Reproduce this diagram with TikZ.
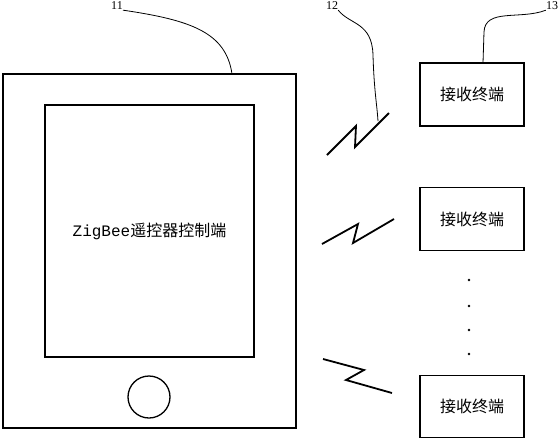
\documentclass[tikz,border=0pt]{standalone}
\usepackage{fontspec}
\usepackage{tikz}
\newfontfamily\cjk{Noto Sans CJK SC}
\newfontfamily\latinmono{Liberation Mono}
\setmainfont{Liberation Serif}

\tikzset{
    box/.style={draw, line width=1.4pt, rectangle, inner sep=0pt},
    leader/.style={line width=0.8pt},
    zigzag/.style={line width=1.8pt, line join=miter},
    refnum/.style={font=\fontsize{12}{12}\selectfont, inner sep=0pt},
}

\begin{document}
\begin{tikzpicture}[x=1pt, y=-1pt]
    \useasboundingbox (0, 0) rectangle (560, 440);
    % controller
    \node[box, minimum width=293, minimum height=354] (phone) at (149.5, 251) {};
    \node[box, minimum width=209, minimum height=252] (screen) at (149.5, 231)
        {\fontsize{16}{16}\selectfont\latinmono ZigBee\cjk 遥控器控制端};
    \node[draw, circle, line width=1.3pt, minimum size=42, inner sep=0pt] (homekey) at (149, 397) {};
    % receivers
    \node[box, minimum width=104, minimum height=63] (recv1) at (472, 94.5) {\fontsize{16}{16}\selectfont\cjk 接收终端};
    \node[box, minimum width=104, minimum height=63] (recv2) at (472, 219) {\fontsize{16}{16}\selectfont\cjk 接收终端};
    \node[box, minimum width=104, minimum height=62] (recv3) at (472, 406.5) {\fontsize{16}{16}\selectfont\cjk 接收终端};
    \foreach \y in {280, 306, 330, 354}
        \fill (469, \y) circle (1.3);
    % wireless links
    \draw[zigzag] (327, 155) -- (356, 126) -- (355, 147) -- (389, 113);
    \draw[zigzag] (322, 244) -- (358, 224) -- (353, 243) -- (394, 219);
    \draw[zigzag] (323, 359) -- (364, 370) -- (346, 380) -- (392, 393);
    % reference numerals
    \node[refnum] (l11) at (117, 6) {11};
    \node[refnum] (l12) at (332, 6) {12};
    \node[refnum] (l13) at (552, 6) {13};
    \coordinate (p11) at (232, 74);
    \coordinate (p12) at (378, 121);
    \coordinate (p13) at (483, 63);
    \draw[leader] (l11.south east) .. controls (190, 20) and (226, 32) .. (p11);
    \draw[leader] (l12.south east) .. controls (350, 25) and (372, 22) .. (373, 55)
        .. controls (374, 90) and (377, 105) .. (p12);
    \draw[leader] (l13.south west) .. controls (520, 20) and (485, 8) .. (484, 32) -- (p13);
\end{tikzpicture}
\end{document}
